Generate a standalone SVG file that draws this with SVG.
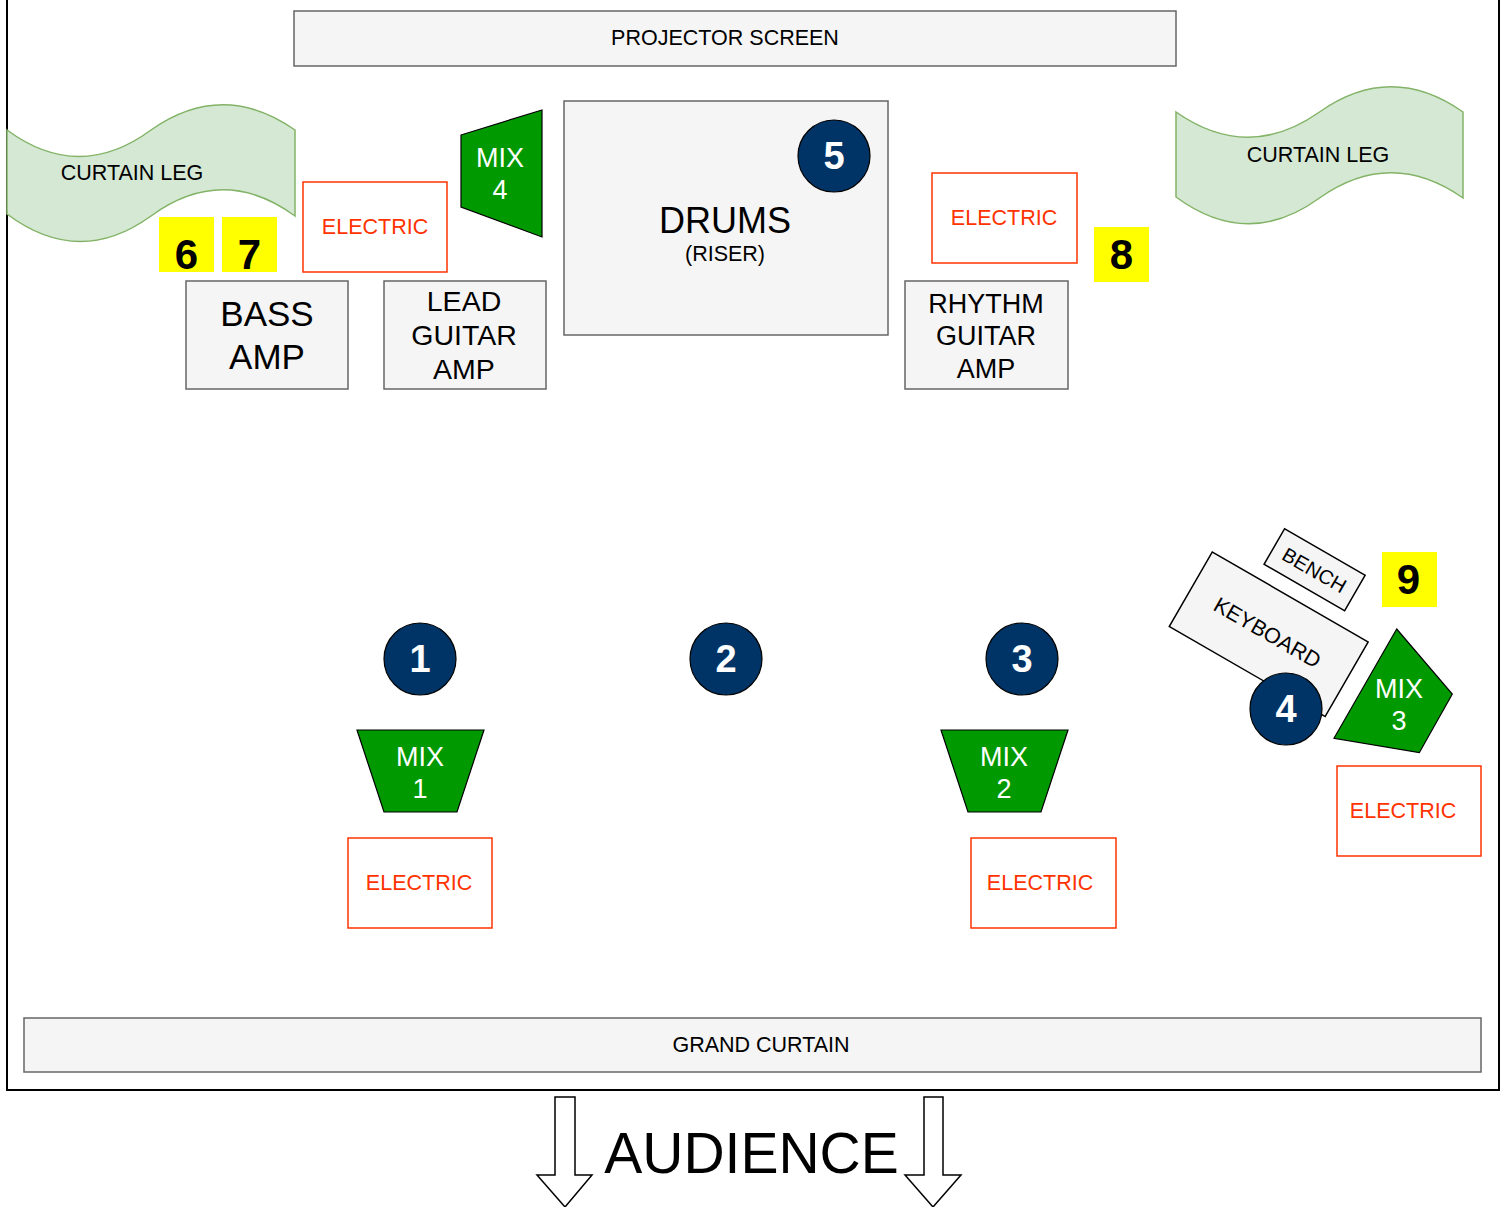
<svg xmlns="http://www.w3.org/2000/svg" width="1506" height="1207" viewBox="0 0 1506 1207">
<style>
text{font-family:"Liberation Sans",Arial,sans-serif;text-anchor:middle;fill:#000}
.gray{fill:#f5f5f5;stroke:#666666;stroke-width:1.5}
.leg{fill:#d5e8d4;stroke:#82b366;stroke-width:1.5}
.elec{fill:#ffffff;stroke:#ff3300;stroke-width:1.5}
.etxt{fill:#ff3300;font-size:21.5px}
.mix{fill:#009900;stroke:#000;stroke-width:1.2}
.mtxt{fill:#ffffff;font-size:27px}
.circ{fill:#003366;stroke:#000;stroke-width:1.2}
.ctxt{fill:#ffffff;font-size:38px;font-weight:bold}
.yel{fill:#ffff00}
.ytxt{font-size:42px;font-weight:bold}
.kb{fill:#f5f5f5;stroke:#000;stroke-width:1.5}
.arrow{fill:#ffffff;stroke:#000;stroke-width:1.5}
</style>
<rect width="1506" height="1207" fill="#ffffff"/>
<g id="stage"><rect x="7" y="-10" width="1492" height="1100" fill="none" stroke="#000" stroke-width="2"/></g>
<g id="projector-screen"><rect class="gray" x="294" y="11" width="882" height="55"/><text x="725" y="45" font-size="21.5">PROJECTOR SCREEN</text></g>
<g id="grand-curtain"><rect class="gray" x="24" y="1018" width="1457" height="54"/><text x="761" y="1052" font-size="21.5">GRAND CURTAIN</text></g>
<g id="curtain-leg-left"><path class="leg" d="M7,130 Q79,183 151,130 Q223,79.6 295,130 L295,216 Q223,163.6 151,216 Q79,268 7,214 Z"/><text x="132" y="179.5" font-size="21.5">CURTAIN LEG</text></g>
<g id="curtain-leg-right"><path class="leg" d="M1176,112 Q1248,162.4 1319.5,112 Q1391,61.6 1463,112 L1463,198 Q1391,147.6 1319.5,198 Q1248,250 1176,197 Z"/><text x="1318" y="161.5" font-size="21.5">CURTAIN LEG</text></g>
<g id="drums"><rect class="gray" x="564" y="101" width="324" height="234"/><text x="725" y="232.5" font-size="36px">DRUMS</text><text x="725" y="261" font-size="21.5">(RISER)</text></g>
<g id="circle-5"><circle class="circ" cx="834" cy="156" r="36"/><text class="ctxt" x="834" y="169">5</text></g>
<g id="mix-4"><polygon class="mix" points="461,135 542,110 542,237 461,207"/><text class="mtxt" x="500" y="167">MIX</text><text class="mtxt" x="500" y="199">4</text></g>
<g id="electric-top-left"><rect class="elec" x="303" y="182" width="144" height="90"/><text class="etxt" x="375" y="234">ELECTRIC</text></g>
<g id="electric-top-right"><rect class="elec" x="932" y="173" width="145" height="90"/><text class="etxt" x="1004" y="225">ELECTRIC</text></g>
<g id="box-6"><rect class="yel" x="159" y="217" width="55" height="55"/><text class="ytxt" x="186.5" y="269">6</text></g>
<g id="box-7"><rect class="yel" x="222" y="217" width="55" height="55"/><text class="ytxt" x="249.5" y="269">7</text></g>
<g id="box-8"><rect class="yel" x="1094" y="227" width="55" height="55"/><text class="ytxt" x="1121.5" y="269">8</text></g>
<g id="box-9"><rect class="yel" x="1382" y="552" width="55" height="55"/><text class="ytxt" x="1408.5" y="594">9</text></g>
<g id="bass-amp"><rect class="gray" x="186" y="281" width="162" height="108"/><text x="267" y="326" font-size="35px">BASS</text><text x="267" y="369" font-size="35px">AMP</text></g>
<g id="lead-guitar-amp"><rect class="gray" x="384" y="281" width="162" height="108"/><text x="464" y="310.5" font-size="28.5px">LEAD</text><text x="464" y="344.5" font-size="28.5px">GUITAR</text><text x="464" y="378.5" font-size="28.5px">AMP</text></g>
<g id="rhythm-guitar-amp"><rect class="gray" x="905" y="281" width="163" height="108"/><text x="986" y="313" font-size="27px">RHYTHM</text><text x="986" y="345" font-size="27px">GUITAR</text><text x="986" y="378" font-size="27px">AMP</text></g>
<g id="circle-1"><circle class="circ" cx="420" cy="659" r="36"/><text class="ctxt" x="420" y="672">1</text></g>
<g id="circle-2"><circle class="circ" cx="726" cy="659" r="36"/><text class="ctxt" x="726" y="672">2</text></g>
<g id="circle-3"><circle class="circ" cx="1022" cy="659" r="36"/><text class="ctxt" x="1022" y="672">3</text></g>
<g id="mix-1"><polygon class="mix" points="357,730 484,730 457,812 384,812"/><text class="mtxt" x="420" y="766">MIX</text><text class="mtxt" x="420" y="798">1</text></g>
<g id="mix-2"><polygon class="mix" points="941,730 1068,730 1041,812 968,812"/><text class="mtxt" x="1004" y="766">MIX</text><text class="mtxt" x="1004" y="798">2</text></g>
<g id="electric-1"><rect class="elec" x="348" y="838" width="144" height="90"/><text class="etxt" x="419" y="890">ELECTRIC</text></g>
<g id="electric-2"><rect class="elec" x="971" y="838" width="145" height="90"/><text class="etxt" x="1040" y="890">ELECTRIC</text></g>
<g id="electric-3"><rect class="elec" x="1337" y="766" width="144" height="90"/><text class="etxt" x="1403" y="818">ELECTRIC</text></g>
<g id="bench" transform="translate(1314.6,569.8) rotate(30)"><rect class="kb" x="-46.5" y="-20.5" width="93" height="41"/><text x="0" y="7.5" font-size="20px">BENCH</text></g>
<g id="keyboard" transform="translate(1268.7,634.2) rotate(30)"><rect class="kb" x="-90" y="-43" width="180" height="86"/><text x="-2" y="6.7" font-size="21.5px">KEYBOARD</text></g>
<g id="circle-4"><circle class="circ" cx="1286" cy="709" r="36"/><text class="ctxt" x="1286" y="722">4</text></g>
<g id="mix-3"><polygon class="mix" points="1396.7,629 1452.3,694 1419.3,752.7 1334,738.3"/><text class="mtxt" x="1399" y="698">MIX</text><text class="mtxt" x="1399" y="730">3</text></g>
<g id="audience"><polygon class="arrow" points="555,1097 575,1097 575,1175 592,1175 565,1207 537,1175 555,1175"/><polygon class="arrow" points="924,1097 943,1097 943,1175 961,1175 933,1207 905,1175 924,1175"/><text x="751.5" y="1173" font-size="57px">AUDIENCE</text></g>
<g id="connectors"></g>
</svg>
